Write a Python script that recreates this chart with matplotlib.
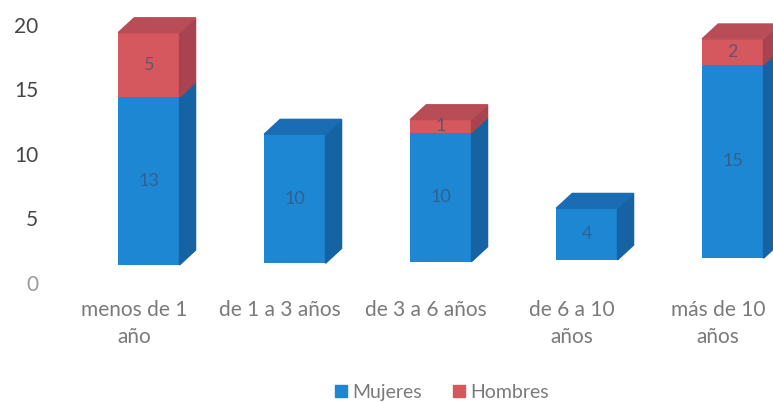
import matplotlib
matplotlib.use("Agg")
import matplotlib.pyplot as plt
from matplotlib.patches import Polygon, Patch
import numpy as np

categories = ["menos de 1\naño", "de 1 a 3 años", "de 3 a 6 años", "de 6 a 10\naños", "más de 10\naños"]
mujeres = [13, 10, 10, 4, 15]
hombres = [5, 0, 1, 0, 2]
series = [("Mujeres", mujeres), ("Hombres", hombres)]

# colors: front, side, top
colors = {
    "Mujeres": ("#1e87d4", "#1663a3", "#1a6cb5"),
    "Hombres": ("#d6585f", "#a9434f", "#b84d57"),
}

plt.rcParams['font.family'] = ['Lato', 'DejaVu Sans']

fig = plt.figure(figsize=(7.73, 4.03), dpi=100)
ax = fig.add_axes([70 / 773, 120 / 403, 730 / 773, 271 / 403])

w = 0.42      # front face width
dx = 0.11     # depth in x
dy = 1.15     # depth in y

x = np.arange(len(categories))
# 3d floor lift, grows a little to the right (perspective)
base = 1.4 + 0.13 * x
cum = base.astype(float)
for name, vals in series:
    front, side, top = colors[name]
    vals = np.array(vals, dtype=float)
    ax.bar(x, vals, width=w, bottom=cum, color=front, zorder=2)
    for i, v in enumerate(vals):
        if v <= 0:
            continue
        b = cum[i]
        r = x[i] + w / 2
        ax.add_patch(Polygon([(r, b), (r + dx, b + dy), (r + dx, b + v + dy), (r, b + v)],
                             closed=True, color=side, zorder=2))
        ax.text(x[i], b + v / 2, str(int(v)), ha='center', va='center',
                fontsize=13, color='#3a5070', alpha=0.7, zorder=3)
    cum = cum + vals

# top faces
for i in range(len(categories)):
    t = cum[i]
    top_name = "Hombres" if hombres[i] > 0 else "Mujeres"
    l, r = x[i] - w / 2, x[i] + w / 2
    ax.add_patch(Polygon([(l, t), (l + dx, t + dy), (r + dx, t + dy), (r, t)],
                         closed=True, color=colors[top_name][2], zorder=2))

ax.set_xlim(-0.54, 4.46)
ax.set_ylim(0, 21)
ax.set_yticks([0, 5, 10, 15, 20])
ax.set_xticks(x - 0.1)
ax.set_xticklabels(categories, linespacing=1.45)
ax.tick_params(axis='y', length=0, labelsize=15, labelcolor='#454545', pad=23)
ax.tick_params(axis='x', length=0, labelsize=15, labelcolor='#7a7a7a', pad=12)
ax.get_yticklabels()[0].set_color('#9a9a9a')
for s in ax.spines.values():
    s.set_visible(False)

handles = [Patch(color=colors["Mujeres"][0]), Patch(color=colors["Hombres"][0])]
fig.legend(handles, ["Mujeres", "Hombres"], loc='center', bbox_to_anchor=(0.572, 0.027),
           ncol=2, frameon=False, fontsize=14, labelcolor='#7a7a7a',
           handlelength=0.6, handleheight=0.6, handletextpad=0.3, columnspacing=1.6)

fig.savefig("out.png", dpi=100)
